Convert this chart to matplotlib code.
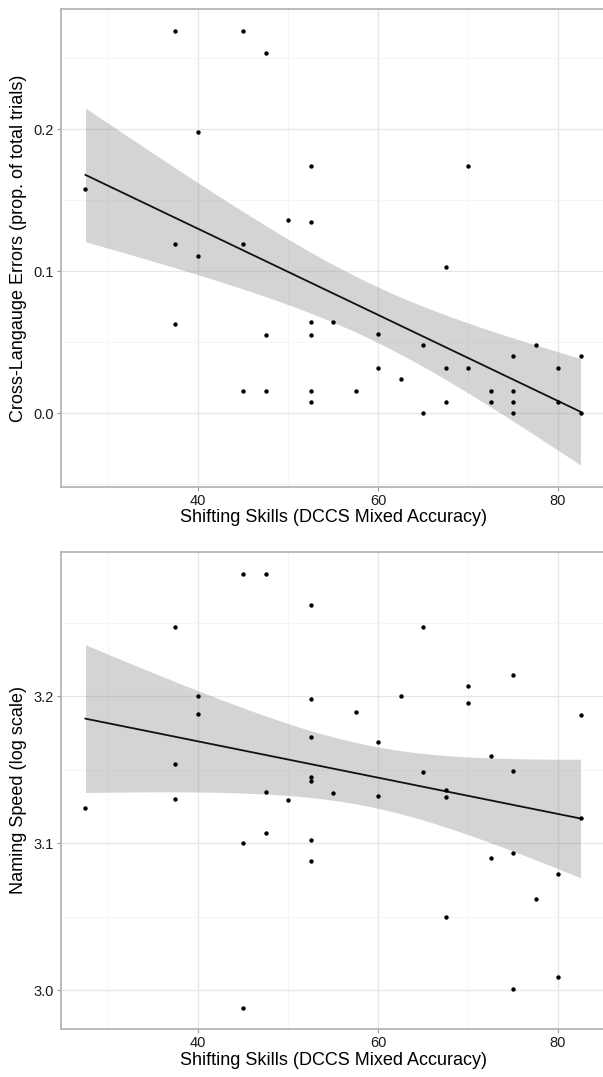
import numpy as np
import matplotlib
matplotlib.use("Agg")
import matplotlib.pyplot as plt
from matplotlib.ticker import MultipleLocator

plt.rcParams['font.family'] = ['Liberation Sans', 'DejaVu Sans']

# ---- data: top panel (cross-language errors) ----
shift_top = [27.5, 37.5, 37.5, 37.5, 40, 40, 45, 45, 45, 47.5, 47.5, 47.5, 50,
             52.5, 52.5, 52.5, 52.5, 52.5, 52.5, 55, 57.5, 60, 60, 62.5, 65, 65,
             67.5, 67.5, 67.5, 70, 70, 72.5, 72.5, 75, 75, 75, 75, 77.5, 80, 80,
             82.5, 82.5]
errors = [0.158, 0.269, 0.119, 0.063, 0.198, 0.111, 0.269, 0.119, 0.016, 0.254,
          0.055, 0.016, 0.136, 0.174, 0.135, 0.064, 0.055, 0.016, 0.008, 0.064,
          0.016, 0.056, 0.032, 0.024, 0.048, 0.000, 0.103, 0.032, 0.008, 0.174,
          0.032, 0.016, 0.008, 0.040, 0.016, 0.008, 0.000, 0.048, 0.032, 0.008,
          0.040, 0.000]

# ---- data: bottom panel (naming speed, log scale) ----
shift_bot = [27.5, 37.5, 37.5, 37.5, 40, 40, 45, 45, 45, 47.5, 47.5, 47.5, 50,
             52.5, 52.5, 52.5, 52.5, 52.5, 52.5, 52.5, 55, 57.5, 60, 60, 62.5,
             65, 65, 67.5, 67.5, 67.5, 70, 70, 72.5, 72.5, 75, 75, 75, 75, 77.5,
             80, 80, 82.5, 82.5]
naming = [3.124, 3.247, 3.154, 3.130, 3.200, 3.188, 3.283, 3.100, 2.988, 3.283,
          3.135, 3.107, 3.129, 3.262, 3.198, 3.172, 3.145, 3.142, 3.102, 3.088,
          3.134, 3.189, 3.169, 3.132, 3.200, 3.247, 3.148, 3.136, 3.131, 3.050,
          3.207, 3.195, 3.159, 3.090, 3.214, 3.149, 3.093, 3.001, 3.062, 3.079,
          3.009, 3.187, 3.117]

x_ticks = [40, 60, 80]
top_yticks = [0.0, 0.1, 0.2]
bot_yticks = [3.0, 3.1, 3.2]
x_label = "Shifting Skills (DCCS Mixed Accuracy)"
top_ylabel = "Cross-Langauge Errors (prop. of total trials)"
bot_ylabel = "Naming Speed (log scale)"


def t975(df):
    z = 1.959963985
    return (z + (z**3 + z) / (4 * df) + (5 * z**5 + 16 * z**3 + 3 * z) / (96 * df**2)
            + (3 * z**7 + 19 * z**5 + 17 * z**3 - 15 * z) / (384 * df**3))


def lm_fit(x, y, grid):
    x = np.asarray(x, float)
    y = np.asarray(y, float)
    n = len(x)
    b1, b0 = np.polyfit(x, y, 1)
    resid = y - (b0 + b1 * x)
    s = np.sqrt(np.sum(resid**2) / (n - 2))
    sxx = np.sum((x - x.mean())**2)
    fit = b0 + b1 * grid
    se = s * np.sqrt(1.0 / n + (grid - x.mean())**2 / sxx)
    t = t975(n - 2)
    return fit, fit - t * se, fit + t * se


W, H = 603, 1077
fig = plt.figure(figsize=(W / 100, H / 100), dpi=100)

left_px, right_px = 61, 607
panels = [
    (shift_top, errors, top_yticks, top_ylabel, 9.3, 486.7, (-0.0517, 0.2845), 0.05),
    (shift_bot, naming, bot_yticks, bot_ylabel, 551.7, 1029.3, (2.9733, 3.2982), 0.05),
]

x_lo = 40 - (198 - left_px) / 9.0
x_hi = 40 + (right_px - 198) / 9.0

for xs, ys, yt, ylab, top_px, bot_px, ylim, ymin in panels:
    ax = fig.add_axes([left_px / W, 1 - bot_px / H, (right_px - left_px) / W,
                       (bot_px - top_px) / H])
    ax.set_xlim(x_lo, x_hi)
    ax.set_ylim(*ylim)
    ax.set_xticks(x_ticks)
    ax.set_yticks(yt)
    ax.xaxis.set_minor_locator(MultipleLocator(10))
    ax.yaxis.set_minor_locator(MultipleLocator(ymin))
    ax.set_axisbelow(True)
    ax.grid(True, which='major', color='#e6e6e6', linewidth=0.9)
    ax.grid(True, which='minor', color='#f5f5f5', linewidth=0.7)
    ax.tick_params(which='minor', length=0)
    ax.tick_params(which='major', length=3, width=0.8, color='#9a9a9a',
                   labelsize=10.5, labelcolor='#1a1a1a', pad=2)
    for sp in ax.spines.values():
        sp.set_color('#b5b5b5')
        sp.set_linewidth(1.3)

    grid = np.linspace(min(xs), max(xs), 80)
    fit, lo, hi = lm_fit(xs, ys, grid)
    ax.fill_between(grid, lo, hi, color='#999999', alpha=0.42, linewidth=0, zorder=2)
    ax.plot(grid, fit, color='#111111', linewidth=1.3, zorder=3)
    ax.scatter(xs, ys, s=10, color='black', linewidths=0, zorder=4)

    ax.set_xlabel(x_label, fontsize=13, color='black', labelpad=1)
    ax.set_ylabel(ylab, fontsize=13, color='black', labelpad=5)

fig.savefig('out.png', dpi=100)
